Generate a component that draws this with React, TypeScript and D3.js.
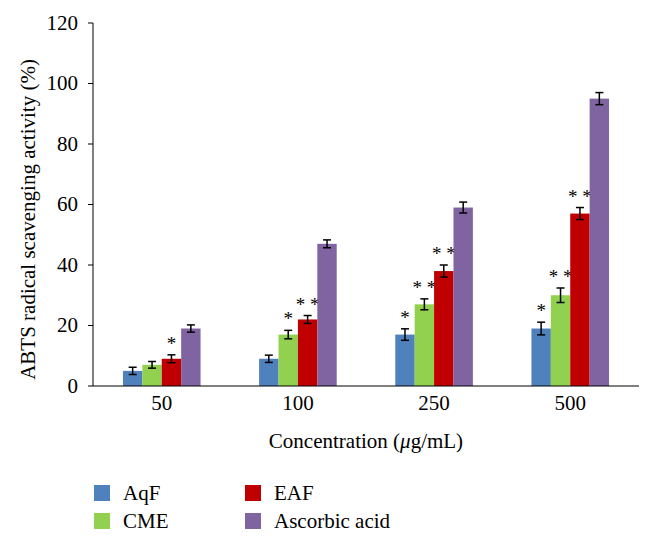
import React from "react";
import * as d3 from "d3";

const categories = ["50", "100", "250", "500"];
const seriesNames = ["AqF", "CME", "EAF", "Ascorbic acid"];
const seriesColors = ["#4F81BD", "#92D050", "#C00000", "#8064A2"];
const aqfValues = [5, 9, 17, 19];
const cmeValues = [7, 17, 27, 30];
const eafValues = [9, 22, 38, 57];
const ascValues = [19, 47, 59, 95];
const aqfErrors = [1.2, 1.2, 1.9, 2.1];
const cmeErrors = [1.1, 1.4, 1.8, 2.4];
const eafErrors = [1.3, 1.3, 2.0, 2.0];
const ascErrors = [1.2, 1.3, 1.8, 2.0];
const aqfStars = ["", "", "*", "*"];
const cmeStars = ["", "*", "* *", "* *"];
const eafStars = ["*", "* *", "* *", "* *"];
const ascStars = ["", "", "", ""];
const yTicks = [0, 20, 40, 60, 80, 100, 120];

const values = [aqfValues, cmeValues, eafValues, ascValues];
const errors = [aqfErrors, cmeErrors, eafErrors, ascErrors];
const stars = [aqfStars, cmeStars, eafStars, ascStars];

const FONT = "Liberation Serif";

export default function App() {
  const W = 653, H = 542;
  const left = 93, right = 639, top = 23, bottom = 386;
  const x = d3.scaleBand<string>().domain(categories).range([left, right]).paddingInner(0.43).paddingOuter(0.22);
  const xs = d3.scaleBand<string>().domain(seriesNames).range([0, x.bandwidth()]).padding(0);
  const y = d3.scaleLinear().domain([0, 120]).range([bottom, top]);
  const tx = { fontFamily: FONT, fill: "#000" } as React.CSSProperties;

  return (
    <svg width={W} height={H} style={{ display: "block", background: "#fff", fontFamily: FONT, margin: "-8px" }}>
      <rect x={0} y={0} width={W} height={H} fill="#fff" />
      {seriesNames.map((s, si) =>
        categories.map((c, ci) => {
          const bx = (x(c) as number) + (xs(s) as number);
          const v = values[si][ci];
          const e = errors[si][ci];
          const cx = bx + xs.bandwidth() / 2;
          const yTop = y(v + e);
          return (
            <g key={s + c}>
              <rect x={bx} y={y(v)} width={xs.bandwidth()} height={bottom - y(v)} fill={seriesColors[si]} />
              <line x1={cx} x2={cx} y1={y(v - e)} y2={y(v + e)} stroke="#000" strokeWidth={1.5} />
              <line x1={cx - 4} x2={cx + 4} y1={y(v - e)} y2={y(v - e)} stroke="#000" strokeWidth={1.5} />
              <line x1={cx - 4} x2={cx + 4} y1={y(v + e)} y2={y(v + e)} stroke="#000" strokeWidth={1.5} />
              {stars[si][ci] && (
                <text x={cx} y={yTop - 5} textAnchor="middle" fontSize={19} style={{ ...tx, whiteSpace: "pre" }}>
                  {stars[si][ci]}
                </text>
              )}
            </g>
          );
        })
      )}
      <line x1={left} x2={left} y1={top} y2={bottom} stroke="#000" strokeWidth={1} />
      <line x1={left} x2={right} y1={bottom} y2={bottom} stroke="#000" strokeWidth={1} />
      {yTicks.map((t) => (
        <g key={t}>
          <line x1={left - 5} x2={left} y1={y(t)} y2={y(t)} stroke="#000" strokeWidth={1} />
          <text x={left - 15} y={y(t)} dy="0.33em" textAnchor="end" fontSize={21} style={tx}>{t}</text>
        </g>
      ))}
      {categories.map((c) => (
        <text key={c} x={(x(c) as number) + x.bandwidth() / 2} y={bottom + 24} textAnchor="middle" fontSize={21} style={tx}>{c}</text>
      ))}
      <text x={(left + right) / 2} y={448} textAnchor="middle" fontSize={21} style={tx}>
        Concentration (<tspan fontStyle="italic">μ</tspan>g/mL)
      </text>
      <text transform={`translate(35,${(top + bottom) / 2 + 15}) rotate(-90)`} textAnchor="middle" fontSize={21} style={tx}>
        ABTS radical scavenging activity (%)
      </text>
      {seriesNames.map((s, i) => {
        const row = i % 2;
        const lx = i < 2 ? 94 : 245;
        const ly = 493 + row * 28;
        return (
          <g key={s}>
            <rect x={lx} y={ly - 8} width={16} height={16} fill={seriesColors[i]} />
            <text x={lx + 29} y={ly} dy="0.35em" fontSize={21} style={tx}>{s}</text>
          </g>
        );
      })}
    </svg>
  );
}
